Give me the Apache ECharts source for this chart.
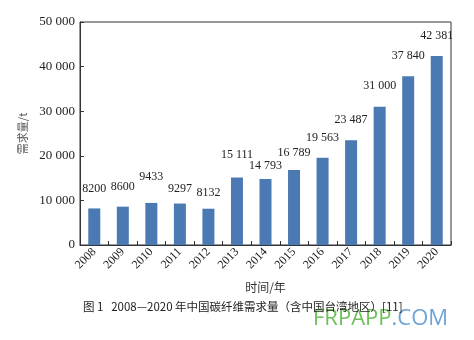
<!DOCTYPE html>
<html>
<head>
<meta charset="utf-8">
<script src="https://cdn.jsdelivr.net/npm/echarts@6/dist/echarts.min.js"></script>
<style>html,body{margin:0;padding:0;background:#fff;}#c{width:474px;height:340px;}</style>
</head>
<body>
<div id="c"></div>
<script>
var years = ['2008','2009','2010','2011','2012','2013','2014','2015','2016','2017','2018','2019','2020'];
var demand = [8200, 8600, 9433, 9297, 8132, 15111, 14793, 16789, 19563, 23487, 31000, 37840, 42381];
var yTicks = [0, 10000, 20000, 30000, 40000, 50000];
var xName = '时间/年';
var yName = '需求量/t';
var caption = '图 1   2008—2020 年中国碳纤维需求量（含中国台湾地区）[11]';
// small manual nudges of the value labels, as placed in the original figure (px, up = positive)
var labelNudge = [0, 0, 6, -5, -4, 3, -7, -3, 0, 0, 1, 0, 0];

function fmt(v) {
  if (v < 10000) return String(v);
  var s = String(v);
  return s.slice(0, s.length - 3) + ' ' + s.slice(s.length - 3);
}

var barData = demand.map(function (v, i) {
  return {value: v, label: {offset: [0, -labelNudge[i]]}};
});

var chart = echarts.init(document.getElementById('c'), null, {renderer: 'canvas'});
chart.setOption({
  animation: false,
  backgroundColor: '#fff',
  grid: {left: 80, right: 23, top: 22, bottom: 95, show: true, borderColor: '#333', borderWidth: 1},
  title: [{
    text: caption, left: 78, top: 296,
    textStyle: {fontSize: 11.5, fontWeight: 'normal', color: '#222', fontFamily: 'Noto Sans CJK SC'}
  }],
  graphic: [{
    type: 'text', left: 313, top: 308,
    style: {
      text: '{g|FRPAPP}{b|.COM}',
      rich: {
        g: {fill: '#6cc05a', fontSize: 22, fontFamily: 'Open Sans', fontWeight: 'normal'},
        b: {fill: '#6ea3d9', fontSize: 22, fontFamily: 'Open Sans', fontWeight: 'normal'}
      }
    }
  }],
  xAxis: {
    type: 'category', data: years,
    name: xName, nameLocation: 'middle', nameGap: 36,
    nameTextStyle: {fontSize: 12, color: '#333', fontFamily: 'Noto Sans CJK SC'},
    axisLine: {lineStyle: {color: '#333'}},
    axisTick: {show: true, inside: true, length: 4, alignWithLabel: false, lineStyle: {color: '#333'}},
    axisLabel: {rotate: 45, fontSize: 12, color: '#222', fontFamily: 'Liberation Serif', margin: 5, interval: 0}
  },
  yAxis: {
    type: 'value', min: yTicks[0], max: yTicks[yTicks.length - 1], interval: yTicks[1] - yTicks[0],
    name: yName, nameLocation: 'middle', nameGap: 40, nameRotate: 90,
    nameTextStyle: {fontSize: 11, color: '#555', fontFamily: 'Noto Sans CJK SC'},
    axisLine: {show: true, lineStyle: {color: '#333'}},
    axisTick: {show: true, inside: true, length: 4, lineStyle: {color: '#333'}},
    splitLine: {show: false},
    axisLabel: {fontSize: 13, color: '#222', fontFamily: 'Liberation Serif', margin: 5, formatter: function (v) { return fmt(v); }}
  },
  series: [{
    type: 'bar', data: barData, barWidth: 12,
    itemStyle: {color: '#4a79b3'},
    label: {
      show: true, position: 'top', distance: 14,
      fontSize: 12, color: '#222', fontFamily: 'Liberation Serif',
      formatter: function (p) { return fmt(p.value); }
    }
  }]
});
</script>
</body>
</html>
